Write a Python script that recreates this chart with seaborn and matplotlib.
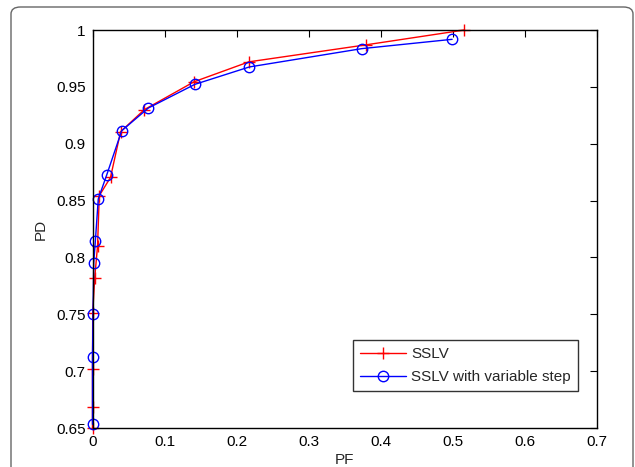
import matplotlib
matplotlib.use("Agg")
import matplotlib.pyplot as plt
import seaborn as sns
import pandas as pd
from matplotlib.patches import FancyBboxPatch

# Data
pf_sslv = [0.516, 0.380, 0.217, 0.141, 0.072, 0.039, 0.025, 0.0094, 0.007, 0.003, 0.0003, 0.0, 0.0, 0.0]
pd_sslv = [1.000, 0.987, 0.972, 0.9545, 0.930, 0.9106, 0.8704, 0.8543, 0.810, 0.7816, 0.7508, 0.7018, 0.6687, 0.650]

pf_var = [0.499, 0.3735, 0.2176, 0.142, 0.0775, 0.0405, 0.0197, 0.008, 0.004, 0.0017, 0.0007, 0.0, 0.0]
pd_var = [0.9918, 0.9836, 0.9675, 0.9522, 0.9314, 0.9114, 0.8725, 0.8514, 0.8147, 0.7953, 0.750, 0.7121, 0.6532]

labels = ["SSLV", "SSLV with variable step"]
xticks = [0, 0.1, 0.2, 0.3, 0.4, 0.5, 0.6, 0.7]
yticks = [0.65, 0.7, 0.75, 0.8, 0.85, 0.9, 0.95, 1.0]
ytick_labels = ["0.65", "0.7", "0.75", "0.8", "0.85", "0.9", "0.95", "1"]
xtick_labels = ["0", "0.1", "0.2", "0.3", "0.4", "0.5", "0.6", "0.7"]

sns.set_style("white")
plt.rcParams["font.family"] = ["Liberation Sans", "DejaVu Sans"]
plt.rcParams["font.size"] = 11

df1 = pd.DataFrame({"PF": pf_sslv, "PD": pd_sslv})
df2 = pd.DataFrame({"PF": pf_var, "PD": pd_var})

fig = plt.figure(figsize=(6.35, 4.67), dpi=100)
# rounded outer frame
frame = FancyBboxPatch((11 / 635, -0.05), 622 / 635, 1 - 7 / 467 + 0.05,
                       boxstyle="round,pad=0,rounding_size=0.015",
                       transform=fig.transFigure, facecolor="white",
                       edgecolor="#666666", linewidth=1.0, zorder=-1)
fig.patches.append(frame)

ax = fig.add_axes([92.5 / 635, 1 - 428 / 467, (597 - 92.5) / 635, (428 - 30) / 467])

sns.lineplot(data=df1, x="PF", y="PD", sort=False, estimator=None, ax=ax,
             color="red", marker="+", markersize=9, markeredgewidth=1.0,
             markeredgecolor="red", linewidth=1.0,
             label=labels[0], clip_on=False)
sns.lineplot(data=df2, x="PF", y="PD", sort=False, estimator=None, ax=ax,
             color="blue", marker="o", markersize=7.5, markerfacecolor="none",
             markeredgecolor="blue", markeredgewidth=1.0, linewidth=1.0,
             label=labels[1], clip_on=False)

ax.set_xlim(0, 0.7)
ax.set_ylim(0.65, 1.0)
ax.set_xticks(xticks)
ax.set_xticklabels(xtick_labels)
ax.set_yticks(yticks)
ax.set_yticklabels(ytick_labels)
ax.set_xlabel("PF", fontsize=11, labelpad=3)
ax.set_ylabel("PD", fontsize=11, labelpad=6)
ax.tick_params(direction="in", length=5, width=0.8, top=True, right=True,
               labelsize=11, colors="black", pad=5)
for s in ax.spines.values():
    s.set_visible(True)
    s.set_color("black")
    s.set_linewidth(1.0)
ax.grid(False)

leg = ax.legend(loc="lower right", bbox_to_anchor=(0.962, 0.093), frameon=True,
                fancybox=False, edgecolor="black", fontsize=11, handlelength=3.0,
                borderpad=0.45, labelspacing=0.6, handletextpad=0.35,
                borderaxespad=0)
leg.get_frame().set_linewidth(1.0)

fig.savefig("out.png", dpi=100)
